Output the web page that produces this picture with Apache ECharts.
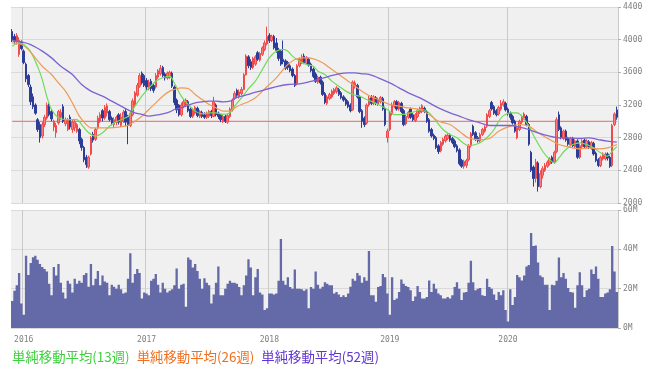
<!DOCTYPE html>
<html><head><meta charset="utf-8">
<script src="https://cdn.jsdelivr.net/npm/echarts@6/dist/echarts.min.js"></script>
<style>html,body{margin:0;padding:0;background:#fff}#c{width:654px;height:375px}</style>
</head><body><div id="c"></div>
<script>
// Weekly OHLC (index 0 = first week shown, late Nov 2015)
const opens=[
4100,4040,3970,3820,3970,3860,3700,3560,3420,3300,
3200,3020,2960,2820,2960,3040,3200,3120,2930,2860,
2980,3050,3180,2970,2900,3050,2900,2920,2880,2900,
2780,2680,2560,2440,2600,2840,2780,2920,3000,3130,
3040,3100,3120,3040,2960,2990,3080,2950,3000,3120,
3050,2950,3080,3200,3320,3430,3590,3560,3500,3400,
3490,3440,3420,3540,3580,3660,3580,3530,3540,3590,
3420,3260,3200,3080,3180,3200,3240,3150,3060,3100,
3160,3060,3110,3080,3050,3060,3120,3060,3200,3100,
3070,3000,3060,2990,3060,3140,3280,3380,3300,3340,
3390,3570,3790,3730,3660,3700,3840,3750,3820,3880,
3950,4050,3990,4040,3960,3880,3860,3760,3740,3720,
3680,3640,3560,3460,3680,3720,3800,3710,3760,3700,
3640,3580,3480,3540,3480,3340,3220,3280,3300,3340,
3360,3390,3350,3300,3270,3240,3200,3140,3430,3440,
3300,3130,3040,2980,3200,3290,3220,3290,3210,3240,
3280,3160,2800,2900,3090,3180,3240,3150,3220,3130,
2970,3050,3150,3080,3010,3060,3110,3120,3160,3120,
3020,2900,2830,2800,2700,2640,2720,2760,2790,2830,
2790,2760,2700,2650,2520,2450,2460,2530,2700,2940,
2860,2800,2760,2840,2880,2940,3060,3230,3180,3130,
3090,3150,3200,3220,3150,3100,3060,3000,2800,2900,
2990,3040,3060,2960,2620,2440,2300,2490,2200,2340,
2400,2450,2480,2560,2500,2630,3080,2920,2790,2880,
2790,2710,2790,2690,2760,2560,2690,2770,2690,2750,
2670,2730,2610,2530,2460,2540,2540,2600,2560,2460,
2960,3140];
const closes=[
4000,3980,4050,3990,3890,3720,3520,3450,3240,3180,
3100,2900,2800,2960,3050,3200,3080,3030,3000,2950,
3120,3110,3000,3020,3010,2930,2990,2990,2960,2760,
2680,2530,2470,2560,2800,2770,2900,3040,3080,3040,
3170,3190,3020,2980,3020,3050,2990,3050,3110,2990,
2950,3100,3250,3350,3440,3560,3470,3440,3420,3480,
3400,3380,3560,3620,3650,3560,3530,3590,3600,3430,
3230,3140,3080,3200,3240,3260,3130,3060,3140,3170,
3070,3120,3060,3050,3100,3120,3070,3240,3080,3060,
3020,3060,3000,3070,3150,3260,3340,3320,3360,3390,
3570,3800,3680,3660,3770,3790,3760,3830,3900,3960,
4040,3990,4040,3900,3870,3770,3700,3730,3650,3660,
3620,3560,3440,3680,3760,3790,3720,3780,3690,3620,
3550,3490,3540,3470,3330,3230,3300,3330,3370,3390,
3410,3330,3290,3260,3210,3180,3130,3480,3470,3300,
3120,3000,2960,3200,3280,3220,3300,3220,3270,3290,
3150,2960,2880,3100,3200,3240,3150,3230,3120,2960,
3060,3110,3050,3020,3080,3130,3160,3190,3120,3000,
2880,2820,2790,2680,2630,2740,2780,2820,2830,2770,
2740,2690,2640,2480,2450,2510,2520,2700,2850,2840,
2780,2760,2840,2900,2930,3080,3130,3150,3100,3080,
3170,3220,3240,3140,3090,3050,2980,2880,2920,3000,
3060,3090,2960,2720,2400,2300,2500,2200,2360,2420,
2460,2500,2540,2500,2620,3020,2900,2800,2880,2770,
2720,2790,2700,2760,2560,2700,2760,2690,2760,2680,
2740,2600,2520,2460,2560,2600,2600,2550,2450,2950,
3090,3050];
const lows=[
3970,3950,3940,3790,3870,3700,3480,3420,3200,3150,
3080,2870,2740,2790,2930,3020,3060,3000,2880,2800,
2960,3020,2980,2940,2880,2900,2860,2880,2860,2720,
2640,2500,2430,2420,2580,2740,2760,2900,2980,3000,
3020,3060,3000,2950,2930,2950,2960,2930,2980,2940,
2720,2930,3060,3180,3300,3410,3450,3420,3380,3380,
3370,3350,3400,3520,3560,3540,3500,3510,3520,3410,
3200,3100,3060,3060,3160,3180,3110,3040,3040,3080,
3050,3040,3040,3030,3030,3040,3040,3050,3060,3030,
2990,2980,2980,2970,3040,3120,3260,3300,3280,3320,
3380,3560,3650,3630,3640,3680,3740,3730,3800,3860,
3930,3960,3970,3880,3840,3740,3680,3700,3630,3630,
3600,3540,3420,3440,3660,3700,3700,3690,3670,3600,
3530,3470,3460,3450,3310,3210,3200,3260,3280,3320,
3340,3310,3270,3240,3190,3160,3110,3130,3400,3280,
3100,2920,2930,2960,3180,3200,3200,3200,3190,3220,
3130,2940,2740,2880,3070,3160,3130,3130,3100,2940,
2950,3030,3030,3000,2990,3040,3090,3100,3100,2980,
2860,2800,2770,2660,2600,2620,2700,2740,2770,2750,
2720,2670,2620,2460,2430,2420,2430,2510,2680,2820,
2760,2740,2740,2820,2860,2920,3040,3130,3080,3060,
3070,3130,3180,3120,3070,3020,2960,2860,2780,2880,
2970,3020,2940,2700,2380,2200,2250,2140,2180,2300,
2380,2430,2460,2480,2480,2610,2880,2780,2770,2750,
2700,2690,2680,2670,2540,2540,2670,2670,2670,2660,
2650,2580,2500,2440,2440,2520,2520,2520,2430,2440,
2940,3020];
const highs=[
4130,4070,4080,4030,3990,3880,3720,3580,3450,3340,
3220,3040,2990,2990,3080,3230,3220,3150,3020,2980,
3140,3150,3210,3050,3040,3080,3020,3030,2980,2920,
2800,2700,2590,2580,2820,2870,2920,3070,3110,3150,
3200,3220,3140,3060,3050,3070,3100,3100,3140,3150,
3080,3120,3280,3370,3470,3590,3610,3580,3530,3510,
3520,3460,3590,3640,3690,3680,3600,3610,3620,3610,
3440,3280,3210,3230,3270,3280,3260,3170,3160,3190,
3180,3140,3130,3110,3120,3140,3140,3300,3220,3120,
3090,3080,3080,3090,3170,3280,3370,3400,3390,3420,
3590,3820,3810,3760,3790,3810,3860,3850,3920,3990,
4160,4080,4060,4060,4020,3900,3880,3990,3760,3740,
3700,3660,3580,3700,3780,3820,3830,3800,3780,3720,
3660,3600,3560,3560,3500,3360,3320,3350,3390,3410,
3430,3410,3370,3320,3290,3260,3220,3500,3500,3460,
3320,3150,3060,3220,3310,3320,3320,3310,3290,3310,
3300,3180,2910,3130,3230,3260,3260,3250,3240,3150,
3080,3130,3170,3100,3100,3150,3180,3210,3180,3140,
3040,2920,2850,2820,2720,2760,2800,2840,2850,2850,
2810,2780,2720,2670,2540,2530,2540,2720,2870,2960,
2880,2820,2860,2920,2950,3100,3150,3250,3200,3150,
3190,3260,3270,3240,3170,3120,3080,3020,2940,3020,
3080,3110,3080,2980,2640,2460,2540,2510,2400,2450,
2490,2520,2560,2580,2640,3050,3120,2940,2900,2900,
2810,2810,2810,2780,2780,2720,2780,2790,2780,2770,
2760,2750,2630,2550,2580,2620,2620,2620,2580,2970,
3110,3180];
// Weekly volume, millions of shares
const volumesM=[
13.7,19,21.7,28,12.5,6.7,36.7,27,33,36,
36.7,34.7,32.5,31,30,28.7,22.5,16.7,31,26.7,
32.5,23,18,15,24,22.5,18,25,22.5,24,
23,27,28,21,32.5,21.7,25,29,21.7,26.7,
23.7,23,16.7,22,21,20,22,19.7,17.5,18,
25,38,23,27.5,30,28,15,18,17.5,16.7,
24,25,27.5,22,18,23,20,18,19,19.7,
21.7,30.3,20,22,22.5,10.8,35.8,34.7,30.8,32.5,
29,25,20,25.3,23,21.7,12.5,17,23,31.3,
16.7,16.7,20,22.5,24,23,23,22.5,20.8,16.7,
21.7,26.7,35,30.8,16.7,25.8,30,18,17,9.2,
10,17.5,17.5,17,17.5,24,45.3,24,22,25.8,
20.8,20,29.7,20,20,19.7,19,19.7,10,20.8,
20,28.7,22,20,21,23.3,22.5,21.7,21.7,17.5,
18.3,17,15.8,16.7,15.8,17.5,21,25,24,28,
26.7,23,25.8,24,39.2,16.7,16.7,13.3,20.8,21.3,
27.5,25.8,17.5,6.7,25.8,14.2,15,18.3,24.7,22.5,
21.3,20.8,19.2,13.7,16,21.3,18.3,15,15,15.8,
24.2,18.3,22.5,20,17.5,16.7,15,15,15.8,15,
16.7,20.8,23.3,20,14.2,18,18.3,23,34.2,23.3,
19.2,20,20.3,16.7,16.3,25,20.8,20,17,14.2,
18.3,16.7,19.2,9.2,3.3,19.7,11.7,15.8,27,25.8,
24.2,26.7,31.3,32,48.3,41.7,42,33.3,26.7,25.8,
22,22,9.2,22,21.7,24,35.8,25.8,28,25,
20.3,18.3,18,10.3,21.7,28.3,21.7,15.8,19.2,20,
29.7,27.5,31.3,25,15.8,15.8,17.5,18,19.7,41.7,
28.7,18.3];
// Moving averages: [week index, value]
const ma13=[[0,3920],[3,3960],[5,3940],[8,3850],[11,3670],[13,3510],[15,3300],[17,3145],[20,3043],[23,3022],[26,3022],[28,3020],[30,2960],[33,2860],[36,2820],[39,2860],[42,2940],[44,2980],[47,3020],[50,3060],[53,3186],[56,3308],[59,3410],[62,3492],[65,3533],[68,3553],[70,3470],[73,3308],[76,3206],[79,3125],[82,3092],[85,3104],[88,3104],[91,3084],[94,3104],[96,3186],[99,3288],[102,3400],[105,3492],[108,3635],[111,3777],[114,3859],[117,3880],[119,3859],[121,3798],[124,3737],[127,3696],[130,3675],[132,3614],[135,3573],[138,3492],[141,3430],[144,3370],[147,3329],[150,3308],[153,3267],[156,3235],[158,3206],[162,3145],[165,3083],[168,3083],[173,3112],[177,3145],[180,3104],[183,3002],[186,2900],[189,2838],[192,2800],[194,2750],[197,2704],[200,2716],[203,2757],[206,2830],[208,2900],[210,3000],[212,3070],[215,3104],[218,3104],[220,3063],[223,2941],[226,2777],[229,2634],[232,2532],[234,2492],[236,2553],[239,2655],[242,2716],[245,2736],[248,2716],[251,2675],[254,2614],[257,2573],[259,2634],[261,2690]];
const ma26=[[0,3960],[4,3940],[7,3880],[10,3777],[13,3675],[17,3573],[20,3470],[23,3370],[26,3226],[29,3063],[32,2960],[34,2920],[37,2920],[42,2920],[46,2930],[50,2950],[53,3002],[56,3063],[59,3145],[62,3226],[65,3308],[68,3370],[70,3390],[73,3410],[76,3402],[79,3329],[82,3267],[85,3206],[88,3165],[91,3125],[94,3125],[96,3165],[99,3206],[102,3240],[105,3288],[108,3370],[111,3451],[114,3533],[117,3635],[119,3696],[122,3757],[125,3777],[128,3777],[131,3757],[134,3716],[137,3655],[140,3594],[143,3533],[146,3471],[149,3410],[152,3349],[155,3300],[158,3267],[163,3206],[167,3186],[171,3165],[176,3145],[180,3083],[184,3002],[189,2961],[193,2879],[197,2798],[202,2777],[206,2790],[210,2879],[215,2941],[219,2961],[223,2941],[227,2859],[232,2777],[236,2716],[240,2687],[245,2663],[249,2675],[253,2663],[257,2675],[261,2716]];
const ma52=[[0,3990],[4,3973],[8,3940],[13,3860],[17,3777],[21,3675],[26,3573],[30,3450],[34,3370],[39,3308],[43,3247],[47,3186],[50,3140],[53,3104],[56,3084],[59,3063],[62,3075],[65,3092],[68,3116],[70,3145],[73,3165],[76,3198],[79,3226],[82,3239],[85,3247],[88,3247],[91,3239],[94,3247],[96,3280],[99,3308],[102,3329],[104,3349],[107,3370],[111,3402],[115,3430],[119,3451],[124,3459],[128,3483],[132,3512],[137,3553],[141,3582],[145,3594],[148,3594],[151,3582],[154,3575],[158,3533],[163,3471],[167,3410],[171,3349],[176,3288],[180,3226],[184,3165],[189,3104],[193,3063],[197,3022],[202,2981],[206,2949],[210,2949],[215,2949],[219,2928],[223,2900],[227,2859],[232,2818],[236,2798],[240,2798],[245,2790],[249,2798],[253,2777],[257,2757],[261,2745]];
const refPrice=3000;
const yearTickIndex=[5,58,111,163,214];
const yearTickLabels=['2016','2017','2018','2019','2020'];
const seriesNames=['単純移動平均(13週)','単純移動平均(26週)','単純移動平均(52週)'];

const lastIdx=closes.length-1;
const categories=closes.map((_,i)=>String(i));
const labelAt={}; yearTickIndex.forEach((k,j)=>{labelAt[k]=yearTickLabels[j];});
const isYear=(idx)=>labelAt[idx]!==undefined;
const candleData=closes.map((c,i)=>[opens[i],c,lows[i],highs[i]]);

const axisFont={color:'#808080',fontSize:8,fontFamily:'DejaVu Sans Mono'};
function xAxis(gi,showLabel){
  return {type:'category',gridIndex:gi,data:categories,boundaryGap:true,
    axisLine:{show:false},axisTick:{show:false},
    axisLabel:Object.assign({show:showLabel,interval:(i)=>isYear(i),formatter:(v)=>labelAt[Number(v)]||'',margin:8},axisFont),
    splitLine:{show:true,interval:(i)=>isYear(i),lineStyle:{color:'#c9c9c9',width:1}}};
}
const refColor='#f08080';
const chart=echarts.init(document.getElementById('c'),null,{renderer:'canvas'});
chart.setOption({
  animation:false,
  backgroundColor:'#ffffff',
  grid:[
    {left:11,right:36,top:7,height:196,show:true,backgroundColor:'#f0f0f0',borderWidth:0},
    {left:11,right:36,top:210,height:118,show:true,backgroundColor:'#f0f0f0',borderWidth:0}
  ],
  legend:{left:2,top:345,icon:'none',itemWidth:0,itemHeight:0,itemGap:2,selectedMode:false,
    textStyle:{fontSize:13.4,fontFamily:'Noto Sans CJK JP'},
    data:[
      {name:seriesNames[0],textStyle:{color:'#3fcf3f'}},
      {name:seriesNames[1],textStyle:{color:'#f07020'}},
      {name:seriesNames[2],textStyle:{color:'#6236d6'}}
    ]},
  xAxis:[xAxis(0,false),xAxis(1,true)],
  yAxis:[
    {type:'value',gridIndex:0,position:'right',min:2000,max:4400,interval:400,
     axisLine:{show:false},axisTick:{show:true,length:3,lineStyle:{color:'#b0b0b0'}},
     axisLabel:Object.assign({margin:5,formatter:(v)=>String(v)},axisFont),
     splitLine:{lineStyle:{color:'#dadada',width:1}}},
    {type:'value',gridIndex:1,position:'right',min:0,max:60,interval:20,
     axisLine:{show:false},axisTick:{show:true,length:3,lineStyle:{color:'#b0b0b0'}},
     axisLabel:Object.assign({margin:5,formatter:(v)=>v+'M'},axisFont),
     splitLine:{lineStyle:{color:'#dadada',width:1}}}
  ],
  series:[
    {type:'line',name:'ref',xAxisIndex:0,yAxisIndex:0,data:[[0,refPrice],[lastIdx,refPrice]],
     symbol:'none',silent:true,z:1,lineStyle:{color:refColor,width:1.2},itemStyle:{color:refColor}},
    {type:'candlestick',name:'price',xAxisIndex:0,yAxisIndex:0,data:candleData,barWidth:2,z:2,
     itemStyle:{color:'#ff7a7a',color0:'#2d3c96',borderColor:'#f04a4a',borderColor0:'#2d3c96',borderWidth:1}},
    {type:'line',name:seriesNames[0],xAxisIndex:0,yAxisIndex:0,data:ma13,symbol:'none',smooth:0.3,z:3,
     lineStyle:{color:'#72d95a',width:1.2},itemStyle:{color:'#72d95a'}},
    {type:'line',name:seriesNames[1],xAxisIndex:0,yAxisIndex:0,data:ma26,symbol:'none',smooth:0.3,z:3,
     lineStyle:{color:'#ee9a58',width:1.2},itemStyle:{color:'#ee9a58'}},
    {type:'line',name:seriesNames[2],xAxisIndex:0,yAxisIndex:0,data:ma52,symbol:'none',smooth:0.3,z:3,
     lineStyle:{color:'#7d62d2',width:1.3},itemStyle:{color:'#7d62d2'}},
    {type:'bar',name:'volume',xAxisIndex:1,yAxisIndex:1,data:volumesM,barCategoryGap:'0%',
     large:true,largeThreshold:50,itemStyle:{color:'#6469a8'}}
  ]
});
</script></body></html>
